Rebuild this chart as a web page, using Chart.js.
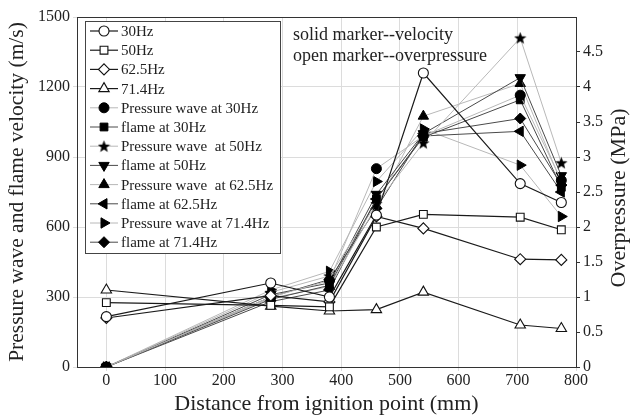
<!DOCTYPE html>
<html>
<head>
<meta charset="utf-8">
<script src="https://cdn.jsdelivr.net/npm/chart.js@4.4.1/dist/chart.umd.min.js"></script>
<style>
  html, body { margin: 0; padding: 0; background: #fff; }
  #wrap { width: 630px; height: 417px; }
</style>
</head>
<body>
<div id="wrap"><canvas id="velocity_chart"></canvas></div>
<script>
// distance from ignition point (mm)
var distance = [0, 280, 380, 460, 540, 705, 775];
var xTicks = [0, 100, 200, 300, 400, 500, 600, 700, 800];
var yTicks = [0, 300, 600, 900, 1200, 1500];
var y2Ticks = [0, 0.5, 1, 1.5, 2, 2.5, 3, 3.5, 4, 4.5];

// overpressure (MPa) - open markers
var op30 = [0.72, 1.2, 1.0, 2.17, 4.2, 2.62, 2.35];
var op50 = [0.92, 0.88, 0.86, 2.0, 2.18, 2.14, 1.96];
var op625 = [0.70, 1.02, 0.93, 2.15, 1.98, 1.54, 1.53];
var op714 = [1.1, 0.87, 0.8, 0.82, 1.07, 0.6, 0.55];

// velocity (m/s) - solid markers
var pw30 = [0, 300, 370, 850, 990, 1165, 800];
var fl30 = [0, 290, 350, 720, 985, 1145, 770];
var pw50 = [0, 320, 390, 700, 960, 1410, 875];
var fl50 = [0, 310, 360, 740, 1000, 1240, 820];
var pw625 = [0, 295, 345, 690, 1075, 1215, 790];
var fl625 = [0, 280, 330, 720, 990, 1010, 750];
var pw714 = [0, 330, 410, 795, 1020, 865, 645];
var fl714 = [0, 300, 375, 680, 1000, 1065, 780];

var serif = "'Liberation Serif', 'DejaVu Serif', serif";
var ink = '#222';

// filled five point star, chart.js 'star' is only an asterisk
function makeStar(size){
    var c = document.createElement('canvas');
    c.width = size; c.height = size;
    var g = c.getContext('2d');
    var cx = size/2, cy = size/2 + 0.5, R = size/2, r = R*0.42;
    g.beginPath();
    for (var i = 0; i < 10; i++) {
        var a = -Math.PI/2 + i*Math.PI/5;
        var rr = (i % 2 === 0) ? R : r;
        g.lineTo(cx + rr*Math.cos(a), cy + rr*Math.sin(a));
    }
    g.closePath();
    g.fillStyle = '#000';
    g.fill();
    return c;
}
var starImg = makeStar(13);

function pts(arr){
    return arr.map(function(v, i){ return {x: distance[i], y: v}; });
}

function openSet(label, arr, style, radius){
    return {
        label: label, data: pts(arr), yAxisID: 'y2',
        borderColor: '#1a1a1a', borderWidth: 1.2,
        pointStyle: style, pointRadius: radius, pointRotation: 0,
        pointBackgroundColor: '#fff', pointBorderColor: '#111', pointBorderWidth: 1.1
    };
}
function solidSet(label, arr, style, rot, lineCol, radius){
    return {
        label: label, data: pts(arr), yAxisID: 'y',
        borderColor: lineCol, borderWidth: 1,
        pointStyle: style, pointRadius: radius, pointRotation: rot,
        pointBackgroundColor: '#000', pointBorderColor: '#000', pointBorderWidth: 1
    };
}

var light = '#b8b8b8', dark = '#4a4a4a';
var datasets = [
    openSet('30Hz', op30, 'circle', 5),
    openSet('50Hz', op50, 'rect', 5.5),
    openSet('62.5Hz', op625, 'rectRot', 5.5),
    openSet('71.4Hz', op714, 'triangle', 6),
    solidSet('Pressure wave at 30Hz', pw30, 'circle', 0, light, 5),
    solidSet('flame at 30Hz', fl30, 'rect', 0, dark, 5.5),
    solidSet('Pressure wave  at 50Hz', pw50, starImg, 0, light, 6.5),
    solidSet('flame at 50Hz', fl50, 'triangle', 180, dark, 6),
    solidSet('Pressure wave  at 62.5Hz', pw625, 'triangle', 0, light, 6),
    solidSet('flame at 62.5Hz', fl625, 'triangle', -90, dark, 6),
    solidSet('Pressure wave at 71.4Hz', pw714, 'triangle', 90, light, 6),
    solidSet('flame at 71.4Hz', fl714, 'rectRot', 0, dark, 5.5)
];

var framePlugin = {
    id: 'frame',
    afterDraw: function(chart){
        var ctx = chart.ctx, a = chart.chartArea;
        ctx.save();
        ctx.strokeStyle = '#333';
        ctx.lineWidth = 1;
        ctx.strokeRect(a.left + 0.5, a.top + 0.5, a.right - a.left, a.bottom - a.top);

        // annotation
        ctx.fillStyle = ink;
        ctx.font = '18px ' + serif;
        ctx.textBaseline = 'alphabetic';
        ctx.textAlign = 'left';
        ctx.fillText('solid marker--velocity', 293, 40);
        ctx.fillText('open marker--overpressure', 293, 61);

        // right axis title, reads bottom to top
        ctx.save();
        ctx.translate(619, 198);
        ctx.rotate(-Math.PI/2);
        ctx.textAlign = 'center';
        ctx.textBaseline = 'middle';
        ctx.font = '22px ' + serif;
        ctx.fillText('Overpressure (MPa)', 0, 0);
        ctx.restore();

        // legend box
        var lx = 85, ly = 21, lw = 195, lh = 232;
        ctx.fillStyle = '#fff';
        ctx.fillRect(lx, ly, lw, lh);
        ctx.strokeStyle = '#444';
        ctx.strokeRect(lx + 0.5, ly + 0.5, lw, lh);
        ctx.font = '15px ' + serif;
        ctx.textBaseline = 'middle';
        chart.data.datasets.forEach(function(ds, i){
            var y = 31 + i*19.2;
            ctx.strokeStyle = ds.borderColor;
            ctx.lineWidth = ds.borderWidth;
            ctx.beginPath();
            ctx.moveTo(90, y); ctx.lineTo(118, y);
            ctx.stroke();
            ctx.fillStyle = ds.pointBackgroundColor;
            ctx.strokeStyle = ds.pointBorderColor;
            ctx.lineWidth = ds.pointBorderWidth;
            Chart.helpers.drawPoint(ctx, {
                pointStyle: ds.pointStyle, rotation: ds.pointRotation,
                radius: ds.pointRadius, borderWidth: ds.pointBorderWidth
            }, 104, y);
            ctx.fillStyle = ink;
            ctx.fillText(ds.label, 121, y + 1);
        });
        ctx.restore();
    }
};

var config_velocity = {
    type: 'line',
    data: { datasets: datasets },
    options: {
        responsive: true,
        maintainAspectRatio: false,
        animation: false,
        layout: { padding: { top: 17, left: 0, right: 0, bottom: 0 } },
        plugins: { legend: { display: false }, tooltip: { enabled: false } },
        scales: {
            x: {
                type: 'linear', min: -50, max: 800,
                afterBuildTicks: function(s){ s.ticks = xTicks.map(function(v){ return {value: v}; }); },
                afterFit: function(s){ s.height = 50; },
                grid: { color: '#dcdcdc', tickLength: 4 },
                border: { color: '#333' },
                ticks: { color: ink, font: { family: serif, size: 16 }, padding: 0, maxRotation: 0,
                         callback: function(v){ return String(v); } },
                title: { display: true, text: 'Distance from ignition point (mm)', color: ink,
                         font: { family: serif, size: 22 }, padding: { top: 0, bottom: 0 } }
            },
            y: {
                type: 'linear', position: 'left', min: 0, max: 1500,
                afterBuildTicks: function(s){ s.ticks = yTicks.map(function(v){ return {value: v}; }); },
                afterFit: function(s){ s.width = 77; },
                grid: { color: '#dcdcdc', tickLength: 4 },
                border: { color: '#333' },
                ticks: { color: ink, font: { family: serif, size: 16 }, padding: 3,
                         callback: function(v){ return String(v); } },
                title: { display: true, text: 'Pressure wave and flame velocity (m/s)', color: ink,
                         font: { family: serif, size: 21.5 }, padding: { top: 4, bottom: 0 } }
            },
            y2: {
                type: 'linear', position: 'right', min: 0, max: 5,
                afterBuildTicks: function(s){ s.ticks = y2Ticks.map(function(v){ return {value: v}; }); },
                afterFit: function(s){ s.width = 54; },
                grid: { drawOnChartArea: false, tickLength: 4, color: '#333' },
                border: { color: '#333' },
                ticks: { color: ink, font: { family: serif, size: 16 }, padding: 3,
                         callback: function(v){ return String(v); } }
            }
        }
    },
    plugins: [framePlugin]
};

const velocity_chart = new Chart(
    document.getElementById('velocity_chart'),
    config_velocity
);
</script>
</body>
</html>
